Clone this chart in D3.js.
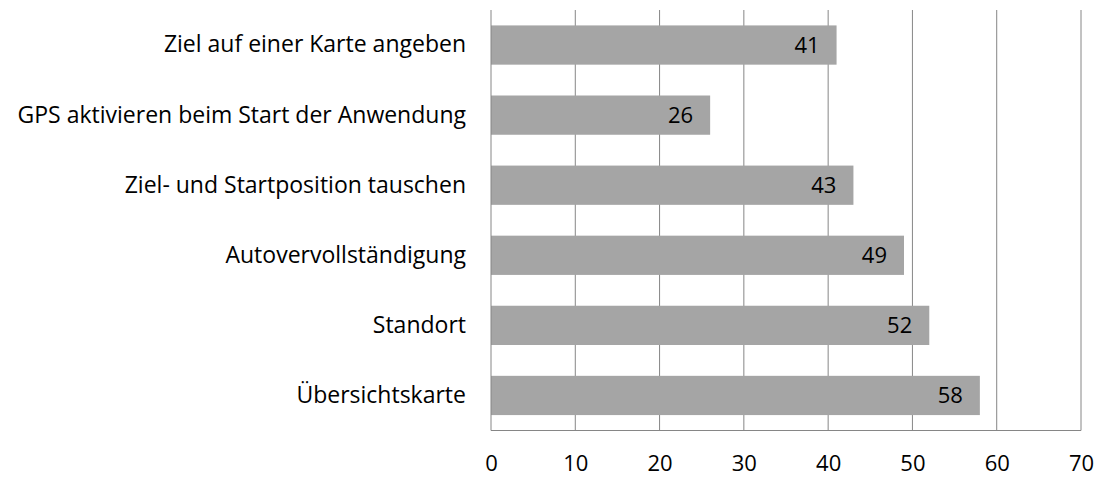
<!DOCTYPE html>
<html>
<head>
<meta charset="utf-8">
<script src="https://cdn.jsdelivr.net/npm/d3@7"></script>
<style>
  html, body { margin: 0; padding: 0; background: #fff; }
  svg { display: block; }
  text { font-family: "Open Sans", Lato, sans-serif; fill: #000; }
</style>
</head>
<body>
<svg id="chart" width="1099" height="477"></svg>
<script>
// Categories (top to bottom) and their values
const categories = [
  "Ziel auf einer Karte angeben",
  "GPS aktivieren beim Start der Anwendung",
  "Ziel- und Startposition tauschen",
  "Autovervollständigung",
  "Standort",
  "Übersichtskarte"
];
const values = [41, 26, 43, 49, 52, 58];
const tickValues = [0, 10, 20, 30, 40, 50, 60, 70];

const fontFamily = "'Open Sans', Lato, sans-serif";
const labelSize = 23;   // category labels
const numberSize = 22;  // tick and value labels

const svg = d3.select("#chart");
const plotLeft = 491, plotRight = 1081, plotTop = 10, plotBottom = 430.5;

const x = d3.scaleLinear().domain([0, 70]).range([plotLeft, plotRight]);
const y = d3.scaleBand().domain(categories).range([plotTop, plotBottom]).paddingInner(0.44).paddingOuter(0.22);

// Vertical gridlines
svg.append("g").selectAll("line").data(tickValues.slice(1)).join("line")
  .attr("x1", d => x(d)).attr("x2", d => x(d))
  .attr("y1", plotTop).attr("y2", plotBottom)
  .attr("stroke", "#868686").attr("stroke-width", 1);

// Bars
svg.append("g").selectAll("rect").data(categories).join("rect")
  .attr("x", x(0))
  .attr("y", d => y(d))
  .attr("width", (d, i) => x(values[i]) - x(0))
  .attr("height", y.bandwidth())
  .attr("fill", "#a5a5a5");

// Value labels inside bar end
svg.append("g").selectAll("text").data(categories).join("text")
  .attr("x", (d, i) => x(values[i]) - 17)
  .attr("y", d => y(d) + y.bandwidth() / 2)
  .attr("dy", "0.36em")
  .attr("text-anchor", "end")
  .attr("font-size", numberSize)
  .attr("font-family", fontFamily)
  .text((d, i) => values[i]);

// Category axis (left)
const yAxis = d3.axisLeft(y).tickSize(0).tickPadding(25);
const gy = svg.append("g").attr("transform", `translate(${plotLeft},0)`).call(yAxis);
gy.select(".domain").attr("stroke", "#868686").attr("d", `M0,${plotTop}V${plotBottom}`);
gy.selectAll("text").attr("font-size", labelSize).attr("font-family", fontFamily).attr("fill", "#000");

// Value axis (bottom)
const xAxis = d3.axisBottom(x).tickValues(tickValues).tickSize(0).tickPadding(25);
const gx = svg.append("g").attr("transform", `translate(0,${plotBottom})`).call(xAxis);
gx.select(".domain").attr("stroke", "#868686").attr("d", `M${plotLeft},0H${plotRight}`);
gx.selectAll("text").attr("font-size", numberSize).attr("font-family", fontFamily).attr("fill", "#000");
</script>
</body>
</html>
